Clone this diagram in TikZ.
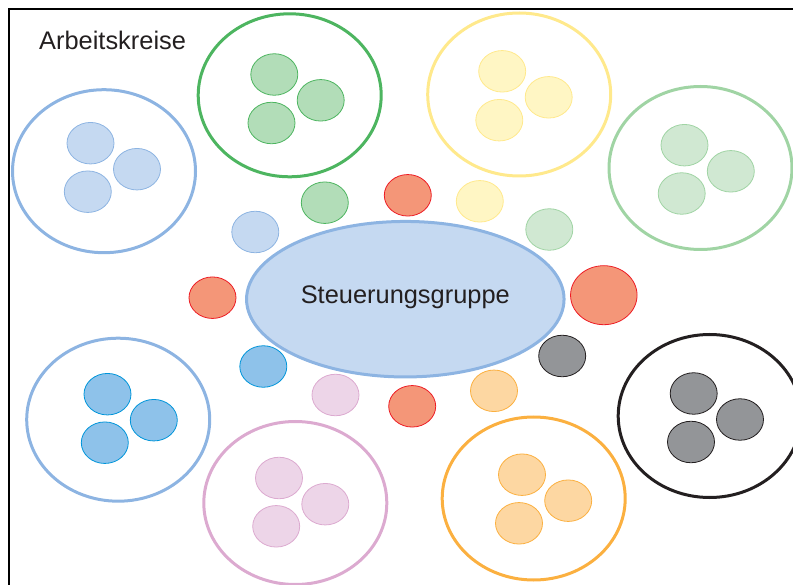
\documentclass[tikz,border=0pt]{standalone}
\usepackage{fontspec}
\setmainfont{Liberation Sans}
\usepackage{tikz}
\usetikzlibrary{shapes.geometric}

\definecolor{textgrau}{RGB}{35,31,32}
\definecolor{hbRand}{RGB}{141,180,226}
\definecolor{hbFill}{RGB}{197,217,241}
\definecolor{grRand}{RGB}{77,181,96}
\definecolor{grFill}{RGB}{178,221,184}
\definecolor{geRand}{RGB}{255,233,140}
\definecolor{geFill}{RGB}{255,246,196}
\definecolor{hgRand}{RGB}{160,212,164}
\definecolor{hgFill}{RGB}{208,232,210}
\definecolor{blRand}{RGB}{0,149,218}
\definecolor{blFill}{RGB}{142,194,234}
\definecolor{roRand}{RGB}{220,170,208}
\definecolor{roFill}{RGB}{237,213,232}
\definecolor{orRand}{RGB}{251,176,64}
\definecolor{orFill}{RGB}{253,215,162}
\definecolor{swRand}{RGB}{35,31,32}
\definecolor{swFill}{RGB}{147,149,152}
\definecolor{rtRand}{RGB}{237,28,36}
\definecolor{rtFill}{RGB}{244,150,120}

\begin{document}
\begin{tikzpicture}[x=1pt, y=-1pt, kreis/.style={ellipse, draw, line width=3pt, minimum width=183pt, minimum height=163pt, inner sep=0pt}, mitglied/.style={ellipse, draw, line width=0.8pt, minimum width=47pt, minimum height=41.5pt, inner sep=0pt}, hb/.style={draw=hbRand, fill=hbFill}, gr/.style={draw=grRand, fill=grFill}, ge/.style={draw=geRand, fill=geFill}, hg/.style={draw=hgRand, fill=hgFill}, bl/.style={draw=blRand, fill=blFill}, ro/.style={draw=roRand, fill=roFill}, or/.style={draw=orRand, fill=orFill}, sw/.style={draw=swRand, fill=swFill}, rt/.style={draw=rtRand, fill=rtFill}]

\useasboundingbox (0,0) rectangle (793,585);
\clip (0,0) rectangle (793,585);
\draw[line width=2pt] (9,590) -- (9,9) -- (800,9);

\node[anchor=base west, inner sep=0pt, text=textgrau, font=\fontsize{25.4}{30}\selectfont] (titel) at (39,50) {Arbeitskreise};

% Steuerungsgruppe
\node[ellipse, hb, line width=3pt, minimum width=317.5pt, minimum height=155.5pt, inner sep=0pt, text=textgrau, text height=13pt, text depth=5pt, font=\fontsize{25.4}{30}\selectfont] (sg) at (405.3,299.2) {Steuerungsgruppe};

\node[mitglied, hb] (v1) at (255.3,232) {};
\node[mitglied, gr] (v2) at (324.8,202.7) {};
\node[mitglied, rt] (v3) at (407.8,195.3) {};
\node[mitglied, ge] (v4) at (479.8,201.3) {};
\node[mitglied, hg] (v5) at (549.3,229.5) {};
\node[mitglied, rt, minimum width=66.5pt, minimum height=59pt] (v6) at (603.8,295.2) {};
\node[mitglied, sw] (v7) at (562.2,356) {};
\node[mitglied, or] (v8) at (494,390.8) {};
\node[mitglied, rt] (v9) at (412.2,406.3) {};
\node[mitglied, ro] (v10) at (335.5,395) {};
\node[mitglied, bl] (v11) at (263.3,366.5) {};
\node[mitglied, rt] (v12) at (212.5,297.7) {};

% Arbeitskreise
\begin{scope}[shift = {(104,171.2)}]
\node[kreis, draw=hbRand] (ak1) at (0,0) {};
\node[mitglied, hb] (ak1a) at (-13.5,-28) {};
\node[mitglied, hb] (ak1b) at (33,-2) {};
\node[mitglied, hb] (ak1c) at (-16.2,20.5) {};
\end{scope}

\begin{scope}[shift = {(289.7,95.3)}]
\node[kreis, draw=grRand] (ak2) at (0,0) {};
\node[mitglied, gr] (ak2a) at (-15.4,-20.8) {};
\node[mitglied, gr] (ak2b) at (31,5) {};
\node[mitglied, gr] (ak2c) at (-18.2,27.7) {};
\end{scope}

\begin{scope}[shift = {(519.2,94.5)}]
\node[kreis, draw=geRand] (ak3) at (0,0) {};
\node[mitglied, ge] (ak3a) at (-17,-23.2) {};
\node[mitglied, ge] (ak3b) at (29.5,2.8) {};
\node[mitglied, ge] (ak3c) at (-19.9,25.7) {};
\end{scope}

\begin{scope}[shift = {(700.5,168)}]
\node[kreis, draw=hgRand] (ak4) at (0,0) {};
\node[mitglied, hg] (ak4a) at (-16,-22.8) {};
\node[mitglied, hg] (ak4b) at (30.3,3.3) {};
\node[mitglied, hg] (ak4c) at (-18.8,25.5) {};
\end{scope}

\begin{scope}[shift = {(118.2,419.7)}]
\node[kreis, draw=hbRand] (ak5) at (0,0) {};
\node[mitglied, bl] (ak5a) at (-10.7,-25.5) {};
\node[mitglied, bl] (ak5b) at (35.6,0.5) {};
\node[mitglied, bl] (ak5c) at (-13.4,23) {};
\end{scope}

\begin{scope}[shift = {(295.3,503)}]
\node[kreis, draw=roRand] (ak6) at (0,0) {};
\node[mitglied, ro] (ak6a) at (-16.3,-25) {};
\node[mitglied, ro] (ak6b) at (30,1.2) {};
\node[mitglied, ro] (ak6c) at (-19.1,23.3) {};
\end{scope}

\begin{scope}[shift = {(533.7,498.5)}]
\node[kreis, draw=orRand] (ak7) at (0,0) {};
\node[mitglied, or] (ak7a) at (-11.7,-23.8) {};
\node[mitglied, or] (ak7b) at (34.5,2.2) {};
\node[mitglied, or] (ak7c) at (-14.7,24.8) {};
\end{scope}

\begin{scope}[shift = {(709.7,416)}]
\node[kreis, draw=swRand] (ak8) at (0,0) {};
\node[mitglied, sw] (ak8a) at (-16,-22.5) {};
\node[mitglied, sw] (ak8b) at (30.3,3.5) {};
\node[mitglied, sw] (ak8c) at (-18.7,26) {};
\end{scope}
\end{tikzpicture}
\end{document}
